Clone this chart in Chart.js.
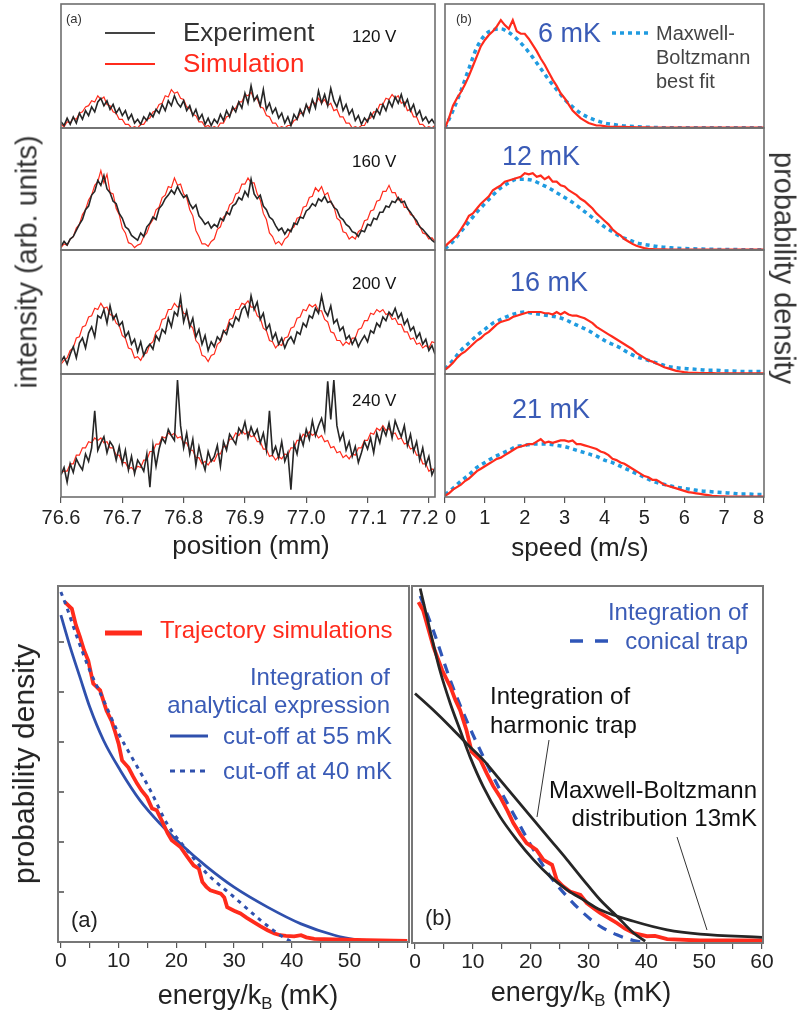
<!DOCTYPE html>
<html>
<head>
<meta charset="utf-8">
<script src="https://cdn.jsdelivr.net/npm/chart.js@4.4.1/dist/chart.umd.min.js"></script>
<style>
  body { margin: 0; background: #fff; }
  #fig { position: relative; width: 799px; height: 1016px; overflow: hidden; background: #fff;
         font-family: "Liberation Sans", Arial, Helvetica, sans-serif; }
  #fig canvas { position: absolute; }
  .t { position: absolute; white-space: nowrap; line-height: 1; }
  sub { font-size: 0.62em; vertical-align: -0.35em; line-height: 0; }
</style>
</head>
<body>
<div id="fig"></div>
<script>
// ---- data: fringe scans (intensity, % of panel height), sampled every 0.005 mm from 76.6 mm
const positionStart = 76.6, positionStep = 0.005;
const positionTicks = [76.6, 76.7, 76.8, 76.9, 77.0, 77.1, 77.2];

const exp120 = [5,2,8,3,9,4,12,7,14,10, 17,13,21,24,18,22,15,19,12,16, 10,14,7,11,4,7,3,9,6,12,
  9,15,12,19,14,22,18,26,20,17, 22,14,18,10,15,7,11,3,8,2, 7,4,11,6,14,9,17,13,21,16,
  28,20,34,22,26,18,31,15,20,12, 16,8,12,4,9,2,11,7,15,10, 19,13,23,16,30,20,27,18,32,22,
  17,25,14,19,11,15,6,10,3,8, 5,12,8,15,11,19,14,22,17,25, 20,27,18,23,14,19,10,14,6,9, 4,7,3];
const sim120 = [3,1,5,4,8,7,12,13,17,18, 22,21,26,23,25,19,18,13,12,7, 7,3,3,0,1,0,3,3,7,8,
  13,14,19,20,26,25,31,28,29,24, 23,17,16,11,10,5,5,1,2,0, 1,0,4,4,9,10,15,16,21,21,
  27,26,29,23,24,17,16,10,9,4, 4,0,1,0,2,2,6,7,12,12, 18,16,22,19,24,20,23,18,20,14,
  15,9,9,4,4,0,1,0,2,2, 7,8,13,13,19,19,24,23,27,24, 26,20,21,14,15,9,9,3,3,0, 1,0,2];

const exp160 = [3,7,4,9,11,16,21,25,33,36, 45,48,57,53,61,50,47,40,38,30, 26,19,17,12,10,8,14,11,19,22,
  27,25,34,37,42,45,49,46,52,47, 43,45,38,34,37,28,25,21,23,18, 21,19,26,24,31,29,36,38,43,41,
  48,44,58,46,42,45,36,33,27,25, 20,16,18,13,17,15,22,21,27,26, 32,34,38,36,42,40,44,39,40,35,
  33,27,25,21,19,15,14,11,16,15, 21,20,26,25,31,31,36,35,40,39, 43,39,40,34,31,27,24,19,17,14, 11,8,6];
const sim160 = [2,5,4,9,11,18,21,29,33,41, 45,53,56,65,55,62,47,46,34,29, 18,14,6,5,2,4,5,11,14,21,
  25,33,35,43,45,52,51,59,53,54, 46,43,33,28,16,11,5,5,3,7, 9,17,19,27,29,37,39,46,47,54,
  54,59,55,55,46,41,30,25,14,11, 5,7,4,9,11,17,19,26,27,35, 36,43,44,51,48,52,45,47,39,36,
  26,24,15,14,9,11,9,15,17,24, 25,32,33,40,41,48,48,53,47,47, 41,42,35,35,29,28,21,20,14,13, 9,10,7];

const exp200 = [10,14,8,16,22,13,25,29,21,33, 38,30,47,45,52,41,55,44,48,39, 42,30,34,24,28,18,26,15,21,24,
  20,31,27,36,33,45,38,50,47,62, 42,51,38,45,30,36,24,31,19,26, 22,30,27,35,32,41,38,46,43,52,
  55,47,63,52,58,44,49,36,40,28, 33,24,29,21,27,30,25,34,32,41, 38,47,45,53,49,63,51,47,55,41,
  44,35,38,28,31,24,29,22,27,31, 26,35,33,41,38,46,43,50,47,53, 45,49,40,44,35,38,29,33,24,28, 19,23,16];
const sim200 = [8,11,13,19,21,29,30,38,39,46, 47,53,52,57,53,54,48,47,41,39, 31,29,21,20,13,14,11,16,17,24,
  26,34,36,44,45,52,52,57,54,55, 49,48,40,37,27,24,15,14,10,15, 16,24,26,34,36,44,45,52,52,57,
  56,59,54,54,47,45,37,35,27,26, 21,24,23,29,30,37,38,45,46,52, 51,56,54,56,51,51,44,42,34,33,
  27,27,23,26,24,29,29,36,37,43, 43,49,48,52,50,52,48,49,44,45, 40,40,34,34,28,29,24,25,21,23, 21,26,25];

const exp240 = [18,24,12,27,20,31,26,22,35,29, 40,70,38,44,49,36,45,41,30,41, 27,38,22,33,19,30,26,21,35,8,
  42,25,39,48,44,55,50,46,95,58, 40,52,35,47,26,41,30,22,37,29, 33,42,25,45,38,51,47,43,56,52,
  61,48,57,50,55,44,52,38,70,35, 41,32,45,29,36,6,43,35,50,42, 55,47,62,50,58,64,54,94,63,95,
  58,46,52,38,45,33,41,28,36,45, 39,48,36,52,44,56,50,60,48,62, 55,49,58,42,51,37,45,30,40,26, 33,18,24];
const sim240 = [20,21,21,27,27,34,34,40,40,45, 44,48,46,48,44,45,40,40,34,34, 28,28,23,24,21,25,24,30,30,37,
  37,43,43,49,48,52,50,52,48,49, 44,44,38,38,32,32,27,29,26,30, 29,35,35,41,41,47,47,52,50,54,
  51,53,49,50,45,45,39,39,33,34, 30,33,31,35,34,40,40,46,46,51, 49,53,50,52,48,50,45,46,40,41,
  36,37,32,34,31,35,34,40,40,46, 46,52,51,56,54,58,54,56,51,52, 47,48,43,44,39,40,34,34,27,27, 21,23,21];

// ---- data: speed distributions (% of panel height); simulation every 0.1 m/s, fit every 0.2 m/s
const speedTicks = [0, 1, 2, 3, 4, 5, 6, 7, 8];
const simStep = 0.1, fitStep = 0.2;
const sim6 = [0,8,18,24,29,35,42,50,58,66, 71,75,78,82,87,83,80,87,78,76, 76,72,67,62,56,51,45,39,34,28,
  24,19,14,11,8,6,4,3,2,2, 1.5,1,1,1,1,1,0.8,0.7,0.6,0.5, 0.5,0.5,0.4,0.4,0.4,0.3,0.3,0.3,0.3,0.3,
  0.3,0.3,0.3,0.3,0.3,0.3,0.3,0.3,0.3,0.3, 0.3,0.3,0.3,0.3,0.3,0.3,0.3,0.3,0.3,0.3, 0.3];
const fit6 = [0,14,30,48,65,75,79,80,77,72, 65,57,48,39,31,23,17,12,8.5,6, 4,3,2,1.4,1,0.7,0.5,0.3,0.2,0.2,
  0.2,0.2,0.2,0.2,0.2,0.2,0.2,0.2,0.2,0.2, 0.2];
const sim12 = [3,6,9,12,17,22,28,30,34,38, 41,44,49,51,53,56,57,58,59,60, 63,62,63,60,61,58,60,56,56,53,
  52,49,47,45,42,40,37,34,30,27, 24,21,17,14,12,9,7,5,3.5,2.5, 1.5,1,0.8,0.6,0.5,0.5,0.4,0.4,0.4,0.4,
  0.4,0.4,0.4,0.4,0.4,0.4,0.4,0.4,0.4,0.4, 0.4,0.4,0.4,0.4,0.4,0.4,0.4,0.4,0.4,0.4, 0.4];
const fit12 = [1,7,15,23,31,38,45,51,55,58, 58,57,54,51,47,43,39,34,29,24, 19,15,11,8.5,6,4.5,3.5,2.5,2,1.5,
  1.2,1,0.8,0.6,0.5,0.4,0.4,0.3,0.3,0.3, 0.3];
const sim16 = [3.5,6,9,13,16,18,21,24,27,29, 32,34,37,40,42,43,44,46,47,48, 49,50,50,50,50,49,49,48,50,48,
  50,48,47,47,46,45,43,41,38,36, 34,32,30,28,26,24,22,20,17,15, 13,11,10,8.5,7,5.5,4.5,3.5,2.5,2,
  1.5,1.2,1,0.9,0.8,0.8,0.7,0.7,0.6,0.6, 0.6,0.5,0.5,0.5,0.5,0.5,0.5,0.5,0.5,0.5, 0.5];
const fit16 = [4,11,19,25,31,36,41,44,47,49, 50,49,48,47,46,44,41,38,35,31, 27,24,21,17,14,12,10,8,6,5,
  4.5,4,3.5,3,3,2.5,2.5,2,2,2, 2];
const sim21 = [1,3,6,8,10,13,15,18,21,23, 25,27,29,31,32,34,36,38,40,41, 42,43,43,45,47,44,45,44,45,46,
  46,45,46,43,43,42,41,40,39,37, 36,34,31,30,28,27,25,23,21,19, 17,16,14,14,12,10,9,8,7,6,
  5,4,3.5,3,2.5,2,1.5,1,0.8,0.6, 0.5,0.4,0.4,0.3,0.3,0.3,0.3,0.3,0.3,0.3, 0.3];
const fit21 = [2,7,13,18,24,28,32,35,38,41, 42,43,43,43,42,41,39,37,35,33, 30,28,25,22,19,16,13,11,9.5,8,
  7,6,5,4.5,4,3.5,3,2.5,2.5,2, 2];

// ---- data: energy distributions (% of panel height)
const energyTicks = [0, 5, 10, 15, 20, 25, 30, 35, 40, 45, 50, 55, 60];
const densityTicks = [0, 14.04, 28.09, 42.13, 56.18, 70.22, 84.27];

const energyTrajA = [0.7,1.9,2.6,3.3,4.0,4.75,5.6,6.8,7.9,8.8, 9.4,10,10.6,11.7,12.5,13.2,14.0,14.9,15.8,16.6,
  17.2,17.8,18.5,19.2,20.7,21.9,23,23.9,24.5,25.2, 25.9,27.7,28.3,28.8,30,31.1,32.2,33.4,34.6,35.8,
  37,38,39,40.4,41.6,42.5,43.9,47.4,53,60];
const trajA = [95.5,93.6,89,85.7,82,79,72.6,70.7,65,62, 59,55.7,51,49,46.5,44.5,42.5,40.7,37.5,37,
  35,33,30.5,28.6,26.7,23.9,21.5,20.6,16.9,15.5, 14.5,13.6,12.5,9.8,8.8,8,6.8,5.6,4.4,3.3,
  2.4,1.9,1.7,1.6,1.9,1.3,0.9,0.7,0.5,0.3];
const energy55 = [0,1.6,3.3,5,7.4,10.3,13.7,17.2,20.7,25.3,30,35.8,41.6,47.4,51,53.2,55];
const cut55 = [91.8,82.9,74.4,66,56.6,48.2,39.8,33.2,27.6,21.1,15.4,9.8,5.1,1.9,0.7,0.3,0];
const energy40 = [0,1,2.7,5,7.4,9.7,12.6,15.5,18.4,21.9,25.3,30,34.6,38,40];
const cut40 = [98.3,94.1,86.1,76.3,67.9,59.5,51,42.6,33.2,25.7,19.2,12.6,6.1,1.9,0];

const energyTrajB = [0.6,1.4,2.3,3.2,4.7,6.1,7.0,7.8,8.9,9.8, 11.3,12.4,13.5,14.7,16,17,18.2,19.3,21,22.2,
  23.7,24.5,25.5,26.8,28.6,29.7,31,32,33.5,34.9, 36.3,37.8,40.1,41.5,43.6,49.3,60];
const trajB = [95.5,93.2,88,82.9,76.4,71.8,68,65.2,59.6,53.6, 51.3,47.5,44,41,37,33.6,30.5,28,26.1,23.3,
  21.9,17.7,16,14.4,13.5,11.2,9.6,8.4,7,5.6, 4,2.8,1.9,2,1.1,0.7,0.7];
const energyCone = [0.9,3.2,6.1,8.9,11.8,14.7,17.6,20.5,23.4,26.3,29.1,32,34.9,37.8,39.5];
const cone = [97.2,87.4,73.6,62.4,52.2,42.9,34.5,26.1,18.6,13,8.4,4.7,2.3,0.7,0.2];
const energyMB = [0.9,2.6,4.3,6.1,7.8,9.5,11.8,14.7,17.6,20.5,23.4,26.3,29.1,32,37.8,43.6,49.3,60];
const mb13 = [99.3,87.6,76.4,67.1,59.6,52.2,43.8,35.4,28.9,23.3,18.6,14.9,12.1,9.3,6.1,3.7,2.5,1.6];
const energyHarm = [0,3.2,6.1,8.9,11.8,14.7,17.6,20.5,23.4,26.3,29.1,32,34.9,37.8,39.8];
const harm = [69.9,65.2,60.6,55.9,51.3,45.7,40.1,34.5,28.9,23.3,17.7,12.1,7.5,2.8,0.5];

// ---- drawing
const FONT = '"Liberation Sans", Arial, Helvetica, sans-serif';
const RED = '#ff2b1c', BLACK = '#262626', SKY = '#1f9be0', BLUE = '#2f50ad', TXTBLUE = '#3a5bb6';
const PAD = 30;
const fig = document.getElementById('fig');

Chart.register({
  id: 'frame',
  afterDraw(chart, args, opts) {
    const { ctx, chartArea: a } = chart;
    ctx.save();
    ctx.strokeStyle = opts.color;
    ctx.lineWidth = opts.width;
    ctx.strokeRect(a.left, a.top, a.right - a.left, a.bottom - a.top);
    (opts.inner || []).forEach(v => {
      const py = chart.scales.y.getPixelForValue(v);
      ctx.beginPath();
      ctx.moveTo(a.left, py);
      ctx.lineTo(a.left + 6, py);
      ctx.stroke();
    });
    ctx.restore();
  }
});

function line(xs, ys, color, width, extra) {
  return Object.assign({
    data: ys.map((y, i) => ({ x: xs[i], y: y })),
    borderColor: color, borderWidth: width, pointRadius: 0, fill: false, tension: 0
  }, extra || {});
}
function gridLine(start, step, ys, color, width, extra) {
  return line(ys.map((_, i) => start + i * step), ys, color, width, extra);
}

function panel(area, xCfg, datasets, opts) {
  opts = opts || {};
  const axisH = opts.axisH || 0;
  const cv = document.createElement('canvas');
  cv.width = area.w + 2 * PAD;
  cv.height = area.h + 2 * PAD + axisH;
  cv.style.left = (area.x - PAD) + 'px';
  cv.style.top = (area.y - PAD) + 'px';
  fig.appendChild(cv);
  new Chart(cv, {
    type: 'line',
    data: { datasets: datasets },
    options: {
      responsive: false, animation: false, events: [],
      layout: { padding: PAD },
      plugins: {
        legend: { display: false }, tooltip: { enabled: false },
        frame: { color: opts.frameColor || '#6e6e6e', width: opts.frameWidth || 1.6, inner: opts.inner || [] }
      },
      scales: {
        x: {
          type: 'linear', min: xCfg.min, max: xCfg.max, display: axisH > 0,
          afterBuildTicks: s => { s.ticks = xCfg.ticks.map(v => ({ value: v })); },
          afterFit: s => { s.height = axisH; },
          grid: { drawOnChartArea: false, tickLength: 6, color: '#555', lineWidth: 1.2 },
          border: { display: false },
          ticks: { autoSkip: false, maxRotation: 0, minRotation: 0, padding: opts.tickPad || 2,
                   align: opts.tickAlign || 'center',
                   color: '#222', font: { family: FONT, size: opts.tickSize || 20 }, callback: xCfg.label }
        },
        y: { display: false, min: 0, max: 100 }
      }
    }
  });
}

function text(html, x, y, size, color, anchor, extra) {
  const d = document.createElement('div');
  d.className = 't';
  d.innerHTML = html;
  d.style.left = x + 'px';
  d.style.top = y + 'px';
  d.style.fontSize = size + 'px';
  d.style.color = color || '#222';
  const tx = anchor === 'r' ? '-100%' : anchor === 'c' ? '-50%' : '0';
  d.style.transform = 'translate(' + tx + ',-50%)' + (extra || '');
  fig.appendChild(d);
}

// top left: fringe scans
const colA = { x: 61, w: 374 }, colB = { x: 445, w: 319 };
const rows = [{ y: 4, h: 124 }, { y: 128, h: 122 }, { y: 250, h: 124 }, { y: 374, h: 123 }];
// last label padded so it stays clear of the neighbouring panel's "0"
const posAxis = { min: 76.6, max: 77.21, ticks: positionTicks,
                  label: v => v.toFixed(1) + (v > 77.15 ? '\u2003' : '') };
const scans = [[exp120, sim120], [exp160, sim160], [exp200, sim200], [exp240, sim240]];
scans.forEach((s, r) => {
  panel(Object.assign({}, colA, rows[r]), posAxis, [
    gridLine(positionStart, positionStep, s[0], BLACK, 1.6),
    gridLine(positionStart, positionStep, s[1], RED, 1.2)
  ], { axisH: r === 3 ? 40 : 0, tickPad: 3 });
});

// top right: speed distributions
const speedAxis = { min: 0, max: 8, ticks: speedTicks, label: v => String(v) };
const dists = [[sim6, fit6], [sim12, fit12], [sim16, fit16], [sim21, fit21]];
dists.forEach((s, r) => {
  panel(Object.assign({}, colB, rows[r]), speedAxis, [
    gridLine(0, simStep, s[0], RED, 2.2),
    gridLine(0, fitStep, s[1], SKY, 3.5, { borderDash: [4, 4], cubicInterpolationMode: 'monotone' })
  ], { axisH: r === 3 ? 40 : 0, tickPad: 3, tickAlign: 'inner' });
});

// bottom: energy distributions
panel({ x: 58, y: 586, w: 351, h: 356 },
  { min: -0.5, max: 60.3, ticks: energyTicks, label: v => (v % 10 === 0 && v < 60) ? String(v) : '' }, [
    line(energy40, cut40, BLUE, 3, { borderDash: [4, 5], cubicInterpolationMode: 'monotone' }),
    line(energyTrajA, trajA, RED, 3.8),
    line(energy55, cut55, BLUE, 2.8, { cubicInterpolationMode: 'monotone' })
  ], { axisH: 44, tickPad: 1, tickSize: 21, inner: densityTicks, frameColor: '#777', frameWidth: 2 });

panel({ x: 412, y: 586, w: 351, h: 357 },
  { min: -0.52, max: 60.17, ticks: energyTicks, label: v => v % 10 === 0 ? String(v) : '' }, [
    line(energyMB, mb13, BLACK, 2.8, { cubicInterpolationMode: 'monotone' }),
    line(energyHarm, harm, BLACK, 2.8, { cubicInterpolationMode: 'monotone' }),
    line(energyTrajB, trajB, RED, 3.8),
    line(energyCone, cone, '#2f56b8', 3.2, { borderDash: [10, 8], cubicInterpolationMode: 'monotone' })
  ], { axisH: 44, tickPad: 1, tickSize: 21, frameColor: '#777', frameWidth: 2 });

// texts
text('(a)', 66, 18, 13, '#333');
text('Experiment', 183, 32, 26, '#333');
text('Simulation', 183, 63, 26, RED);
text('120 V', 352, 36, 17, '#111');
text('160 V', 352, 161, 17, '#111');
text('200 V', 352, 283, 17, '#111');
text('240 V', 352, 400, 17, '#111');
text('intensity (arb. units)', 27, 262, 29, '#333', 'c', ' rotate(-90deg)');
text('position (mm)', 251, 545, 26, '#222', 'c');

text('(b)', 456, 18, 13, '#333');
text('6 mK', 538, 33, 27, TXTBLUE);
text('12 mK', 502, 156, 27, TXTBLUE);
text('16 mK', 510, 282, 27, TXTBLUE);
text('21 mK', 512, 409, 27, TXTBLUE);
text('Maxwell-', 656, 33, 20, '#444');
text('Boltzmann', 656, 57, 20, '#444');
text('best fit', 656, 81, 20, '#444');
text('probability density', 784, 268, 29, '#333', 'c', ' rotate(90deg)');
text('speed (m/s)', 580, 547, 26, '#222', 'c');

text('probability density', 24, 764, 30, '#222', 'c', ' rotate(-90deg)');
text('Trajectory simulations', 160, 630, 24, RED);
text('Integration of', 390, 677, 24, TXTBLUE, 'r');
text('analytical expression', 390, 705, 24, TXTBLUE, 'r');
text('cut-off at 55 mK', 223, 736, 24, TXTBLUE);
text('cut-off at 40 mK', 223, 771, 24, TXTBLUE);
text('(a)', 71, 920, 22, '#222');
text('energy/k<sub>B</sub> (mK)', 248, 995, 27, '#222', 'c');

text('Integration of', 748, 612, 24, TXTBLUE, 'r');
text('conical trap', 748, 641, 24, TXTBLUE, 'r');
text('Integration of', 490, 696, 24, '#111');
text('harmonic trap', 490, 725, 24, '#111');
text('Maxwell-Boltzmann', 757, 790, 24, '#111', 'r');
text('distribution 13mK', 757, 818, 24, '#111', 'r');
text('(b)', 425, 918, 22, '#222');
text('energy/k<sub>B</sub> (mK)', 581, 992, 27, '#222', 'c');

// legend swatches and pointer lines
fig.insertAdjacentHTML('beforeend',
  '<svg width="799" height="1016" style="position:absolute;left:0;top:0">' +
  '<line x1="105" y1="33" x2="155" y2="33" stroke="#444" stroke-width="2"/>' +
  '<line x1="105" y1="64" x2="155" y2="64" stroke="' + RED + '" stroke-width="2"/>' +
  '<line x1="612" y1="33" x2="648" y2="33" stroke="' + SKY + '" stroke-width="3.5" stroke-dasharray="4 4"/>' +
  '<line x1="105" y1="633" x2="142" y2="633" stroke="' + RED + '" stroke-width="5"/>' +
  '<line x1="170" y1="736" x2="208" y2="736" stroke="' + BLUE + '" stroke-width="3"/>' +
  '<line x1="170" y1="771" x2="208" y2="771" stroke="' + BLUE + '" stroke-width="3" stroke-dasharray="5 5"/>' +
  '<line x1="570" y1="641" x2="608" y2="641" stroke="#2f56b8" stroke-width="3.5" stroke-dasharray="13 12"/>' +
  '<line x1="549" y1="740" x2="537" y2="817" stroke="#333" stroke-width="1"/>' +
  '<line x1="677" y1="837" x2="707" y2="930" stroke="#333" stroke-width="1"/>' +
  '</svg>');
</script>
</body>
</html>
